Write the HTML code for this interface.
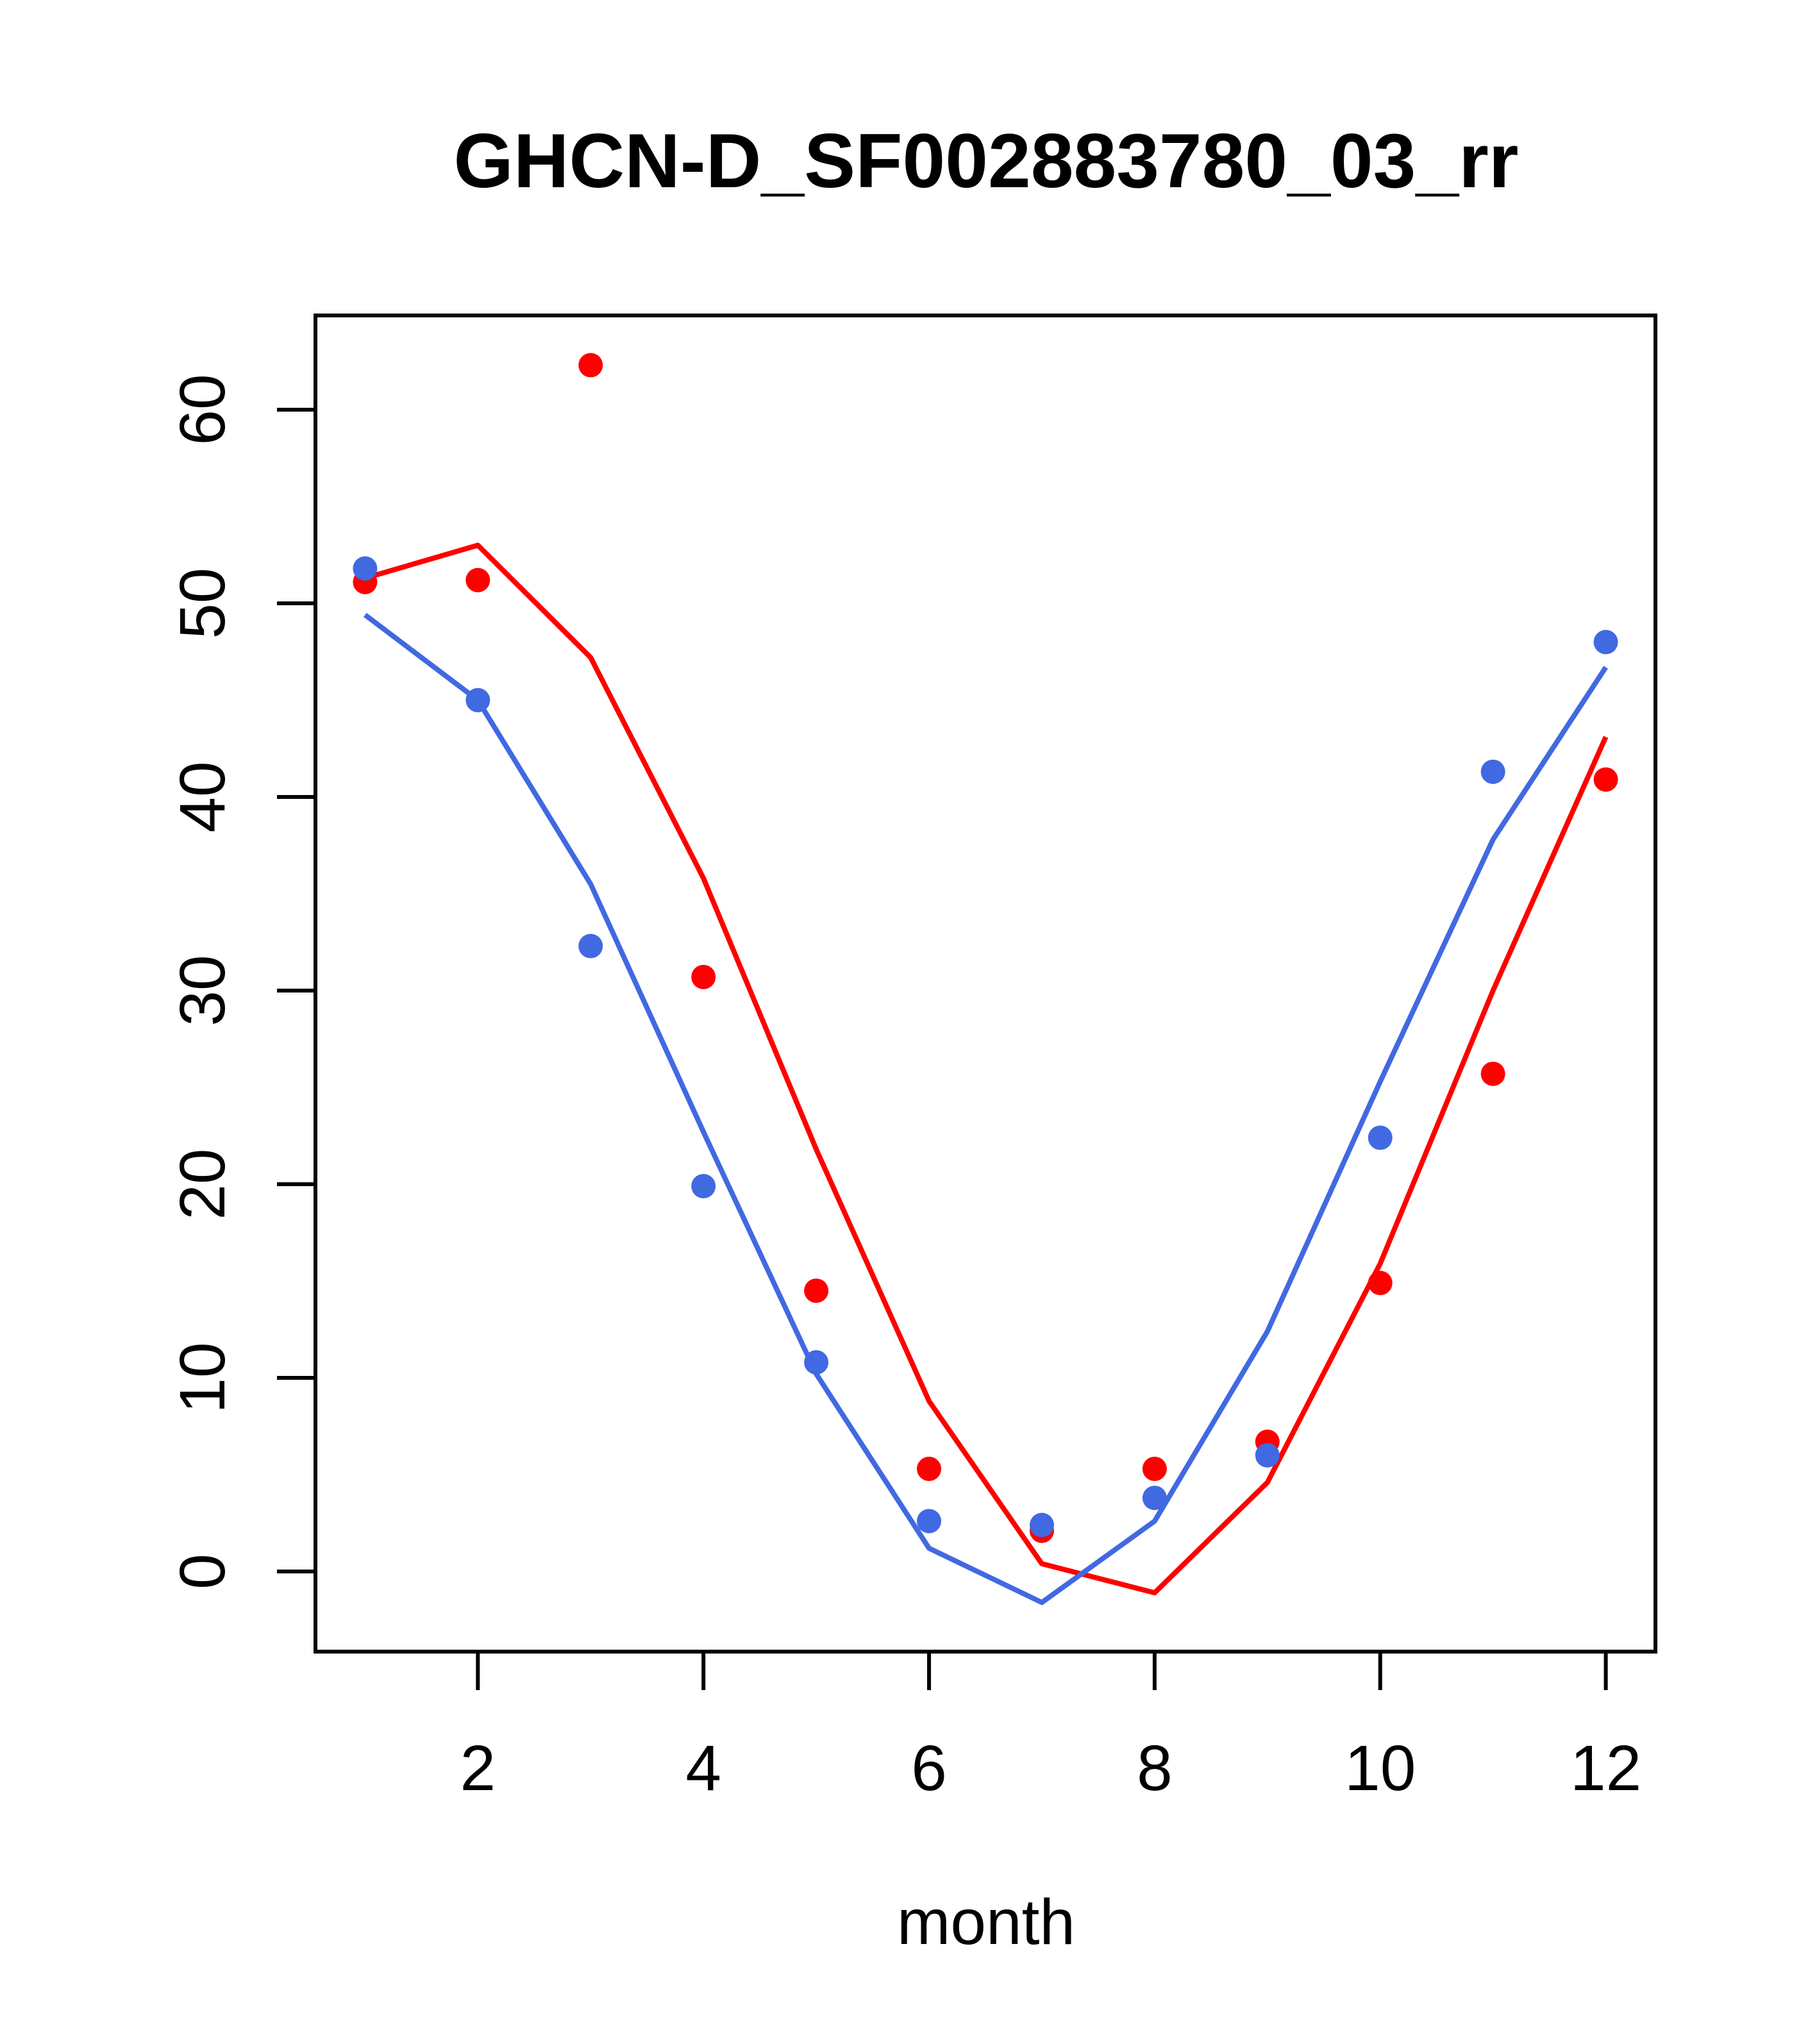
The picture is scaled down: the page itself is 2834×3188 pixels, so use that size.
<!DOCTYPE html>
<html><head><meta charset="utf-8"><style>html,body{margin:0;padding:0;background:#fff}svg{display:block}</style></head>
<body>
<svg id="chart" width="2834" height="3188" viewBox="0 0 2834 3188" xmlns="http://www.w3.org/2000/svg" font-family="Liberation Sans, Arial, sans-serif">
<rect width="2834" height="3188" fill="#fff"/>
<text x="1538" y="292" text-anchor="middle" font-size="120" font-weight="bold">GHCN-D_SF002883780_03_rr</text>
<text x="1538" y="3032" text-anchor="middle" font-size="100">month</text>
<g id="marks"></g>
<rect x="492" y="492" width="2090" height="2084" fill="none" stroke="#000" stroke-width="6"/>
<g id="axes"></g>
</svg>
<script>
const months = [1,2,3,4,5,6,7,8,9,10,11,12];
const redPoints = [51.1,51.2,62.3,30.7,14.5,5.3,2.1,5.3,6.7,14.9,25.7,40.9];
const bluePoints = [51.8,45.0,32.3,19.9,10.8,2.6,2.4,3.8,6.0,22.4,41.3,48.0];
const redLine = [51.3,53.0,47.2,35.8,21.8,8.8,0.4,-1.1,4.6,15.9,30.0,43.1];
const blueLine = [49.4,45.0,35.5,22.7,10.2,1.2,-1.6,2.6,12.4,25.3,37.8,46.7];
const xTicks = [2,4,6,8,10,12];
const yTicks = [0,10,20,30,40,50,60];

const NS = 'http://www.w3.org/2000/svg';
const X = m => 492 + (m - 0.56) * (2090 / 11.88);
const Y = v => 2451 - v * 30.2;
const marks = document.getElementById('marks');
const axes = document.getElementById('axes');
function mk(tag, attrs, parent){const e=document.createElementNS(NS,tag);for(const k in attrs)e.setAttribute(k,attrs[k]);parent.appendChild(e);return e;}

function line(vals, color, name){
  const p = mk('polyline',{points: vals.map((v,i)=>X(months[i])+','+Y(v)).join(' '), fill:'none', stroke:color, 'stroke-width':8, 'stroke-linejoin':'round'}, marks);
  
  
}
function pts(vals, color, name){
  vals.forEach((v,i)=>{
    const c = mk('circle',{cx:X(months[i]), cy:Y(v), r:19, fill:color}, marks);
    
    
  });
}
line(redLine,'#ff0000','red-fit-line');
line(blueLine,'#4169e1','blue-fit-line');
pts(redPoints,'#ff0000','red-point');
pts(bluePoints,'#4169e1','blue-point');

xTicks.forEach(t=>{
  const l = mk('line',{x1:X(t),x2:X(t),y1:2576,y2:2636,stroke:'#000','stroke-width':6}, axes);
  
  
  const tx = mk('text',{x:X(t), y:2792, 'text-anchor':'middle','font-size':100}, axes);
  tx.textContent = t;
  
  
});
yTicks.forEach(t=>{
  const l = mk('line',{x1:432,x2:492,y1:Y(t),y2:Y(t),stroke:'#000','stroke-width':6}, axes);
  
  
  const tx = mk('text',{x:0,y:0,'text-anchor':'middle','font-size':100,transform:'translate(350,'+Y(t)+') rotate(-90)'}, axes);
  tx.textContent = t;
  
  
});
</script>
</body></html>
